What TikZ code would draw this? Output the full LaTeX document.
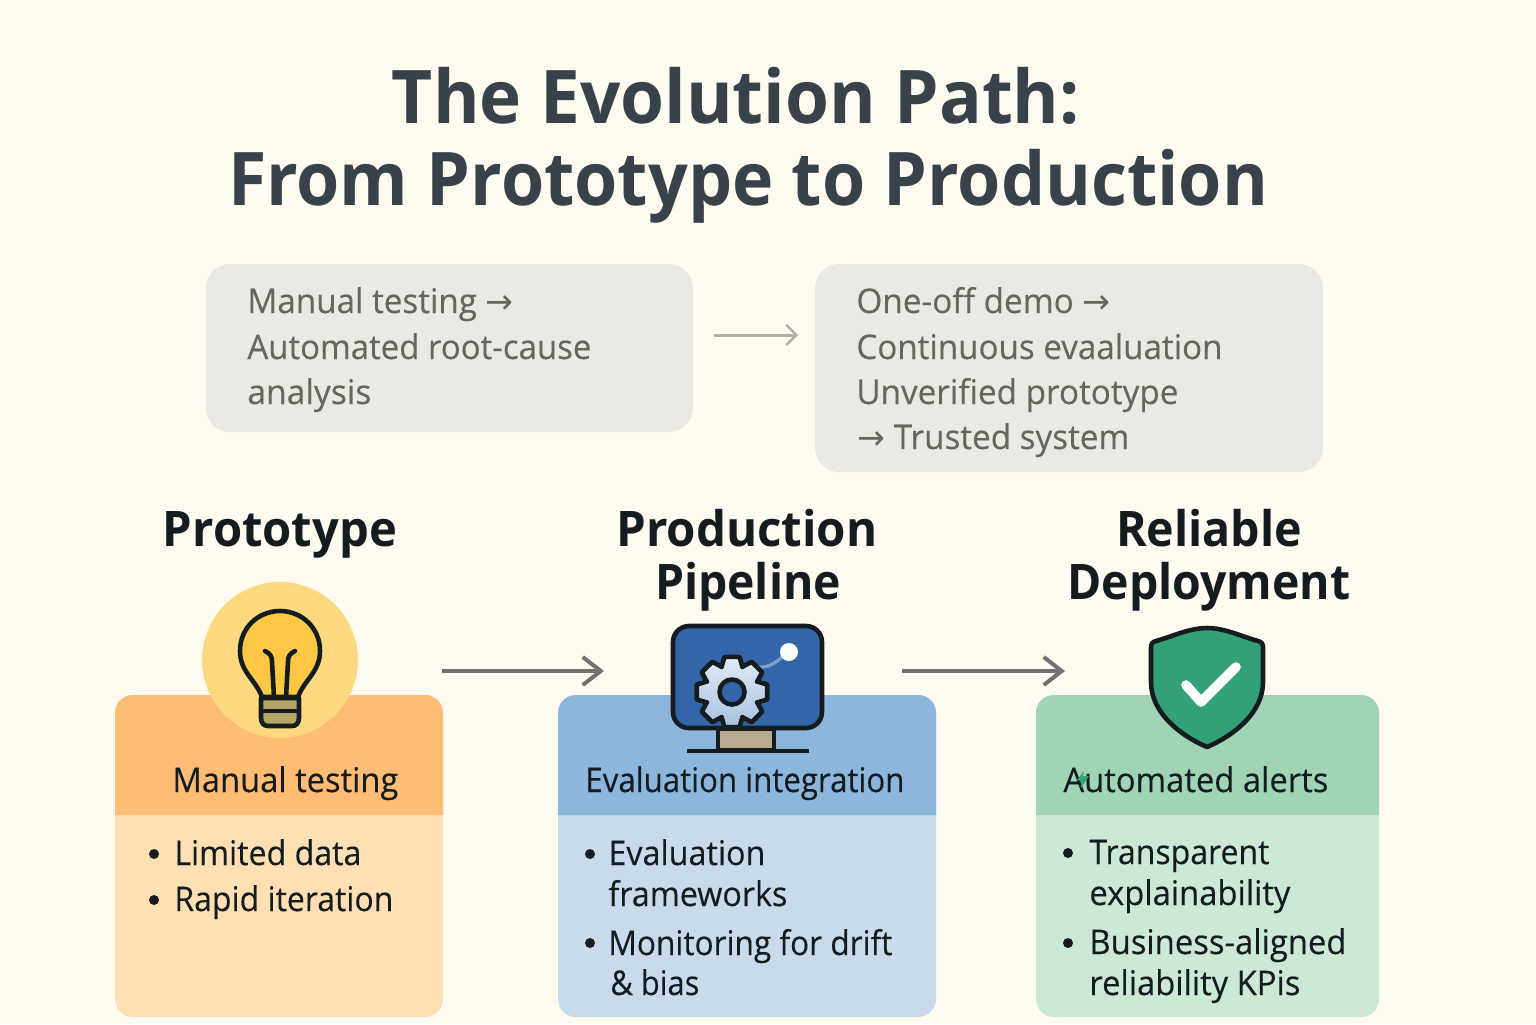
\documentclass[tikz,border=0pt]{standalone}
\usepackage{graphicx}
\usepackage{fontspec}
\setmainfont{Open Sans}
\newfontfamily\medfont[FakeBold=0.25]{Open Sans}
\newfontfamily\arrowfont{DejaVu Sans}
\usetikzlibrary{arrows.meta}
% set a text to a given width in reference pixels, keeping its height
\newcommand\fitpx[2]{\resizebox{\dimexpr #1pt/2\relax}{\height}{#2}}
\definecolor{bgc}{HTML}{FFFBF0}
\definecolor{titlec}{HTML}{37424A}
\definecolor{grayboxc}{HTML}{EAE9E4}
\definecolor{graytextc}{HTML}{66665F}
\definecolor{inkc}{HTML}{141C20}
\definecolor{orangehead}{HTML}{FFBC75}
\definecolor{orangebody}{HTML}{FFDFB4}
\definecolor{bluehead}{HTML}{8DB6DC}
\definecolor{bluebody}{HTML}{C9DBEA}
\definecolor{greenhead}{HTML}{A0D4B5}
\definecolor{greenbody}{HTML}{CBE9D4}
\definecolor{arrowc}{HTML}{6F7271}
\definecolor{softarrowc}{HTML}{B0B0A8}
\definecolor{halo}{HTML}{FFD97F}
\definecolor{glass}{HTML}{FFC844}
\definecolor{olive}{HTML}{B2A566}
\definecolor{stand}{HTML}{B8AA90}
\definecolor{screen}{HTML}{3465A8}
\definecolor{trail}{HTML}{7EA1CC}
\definecolor{gearhi}{HTML}{E0EAF6}
\definecolor{gearlo}{HTML}{A8C2E0}
\definecolor{shieldc}{HTML}{33A176}
\tikzset{
  titletext/.style={anchor=base,inner sep=0pt,text=titlec,font=\fontsize{37}{37}\selectfont\bfseries},
  headtext/.style={anchor=base,inner sep=0pt,text=inkc,font=\fontsize{24.5}{24}\selectfont\bfseries},
  subtext/.style={anchor=base west,inner sep=0pt,text=inkc,font=\fontsize{17}{17}\medfont},
  bodytext/.style={anchor=base west,inner sep=0pt,text=inkc,font=\fontsize{17}{17}\medfont},
  graytext/.style={anchor=base west,inner sep=0pt,text=graytextc,font=\fontsize{17}{17}\medfont},
  graybox/.style={fill=grayboxc,rounded corners=12pt},
  bigarrow/.style={draw=arrowc,line width=2pt,-{Straight Barb[length=9pt,width=14pt,line width=2pt]}},
  softarrow/.style={draw=softarrowc,line width=1.5pt,-{Straight Barb[length=5pt,width=10pt,line width=1.2pt]}},
  bulletdot/.style={circle,fill=inkc,inner sep=0pt,minimum size=5pt},
  iconline/.style={draw=inkc,line width=2.3pt,line join=round},
}
\begin{document}
\begin{tikzpicture}[x=0.5pt,y=-0.5pt]
\useasboundingbox (0,0) rectangle (1536,1024);
\fill[bgc] (0,0) rectangle (1536,1024);

% title
\node[titletext] (t1) at (736,123) {\fitpx{688}{The Evolution Path:}};
\node[titletext] (t2) at (748,205) {\fitpx{1040}{From Prototype to Production}};

% grey boxes
\fill[graybox] (206,264) rectangle (693,432);
\fill[graybox] (815,264) rectangle (1323,472);
\coordinate (gb1) at (693,335);
\coordinate (gb2) at (815,335);
\draw[softarrow,shorten <=10.5pt,shorten >=8.5pt] (gb1) -- (gb2);
\node[graytext] (g11) at (247,313) {\fitpx{266}{Manual testing {\arrowfont →}}};
\node[graytext] (g12) at (247,359) {\fitpx{344}{Automated root-cause}};
\node[graytext] (g13) at (247,404) {\fitpx{124}{analysis}};
\node[graytext] (g21) at (856,313) {\fitpx{254}{One-off demo {\arrowfont →}}};
\node[graytext] (g22) at (856,359) {\fitpx{366}{Continuous evaaluation}};
\node[graytext] (g23) at (856,404) {\fitpx{322}{Unverified prototype}};
\node[graytext] (g24) at (857,449) {\fitpx{272}{{\arrowfont →} Trusted system}};

% stage headings
\node[headtext] (h1) at (280,546) {\fitpx{234}{Prototype}};
\node[headtext] (h2a) at (747,546) {\fitpx{261}{Production}};
\node[headtext] (h2b) at (748,599) {\fitpx{186}{Pipeline}};
\node[headtext] (h3a) at (1209,546) {\fitpx{186}{Reliable}};
\node[headtext] (h3b) at (1209,599) {\fitpx{283}{Deployment}};

% cards
\fill[orangebody,rounded corners=9pt] (115,695) rectangle (443,1017);
\fill[orangehead] (115,815) [rounded corners=9pt] -- (115,695) -- (443,695) [sharp corners] -- (443,815) -- cycle;
\fill[bluebody,rounded corners=9pt] (558,695) rectangle (936,1017);
\fill[bluehead] (558,815) [rounded corners=9pt] -- (558,695) -- (936,695) [sharp corners] -- (936,815) -- cycle;
\fill[greenbody,rounded corners=9pt] (1036,695) rectangle (1379,1017);
\fill[greenhead] (1036,815) [rounded corners=9pt] -- (1036,695) -- (1379,695) [sharp corners] -- (1379,815) -- cycle;

% connectors
\coordinate (a1s) at (442,671);
\coordinate (a1e) at (604,671);
\coordinate (a2s) at (902,671);
\coordinate (a2e) at (1065,671);
\draw[bigarrow] (a1s) -- (a1e);
\draw[bigarrow] (a2s) -- (a2e);

% bulb icon
\fill[halo] (280,660) circle[radius=78];
\draw[iconline,fill=glass]
  (262,697) .. controls (256,680) and (240,672) .. (240,651)
  .. controls (240,628) and (258,611) .. (280,611)
  .. controls (302,611) and (320,628) .. (320,651)
  .. controls (320,672) and (304,680) .. (298,697) -- cycle;
\draw[iconline,line cap=round] (265,651) .. controls (271,654) and (272,657) .. (272,662) -- (274,697);
\draw[iconline,line cap=round] (295,651) .. controls (289,654) and (288,657) .. (288,662) -- (286,697);
\draw[iconline,fill=olive] (261,698) -- (261,718) .. controls (261,723) and (264,726) .. (268,726) -- (292,726) .. controls (296,726) and (299,723) .. (299,718) -- (299,698) -- cycle;
\draw[iconline] (261,711) -- (299,711);

% monitor icon
\draw[iconline,fill=stand] (718,729) rectangle (774,750);
\draw[draw=inkc,line width=2pt] (687,751) -- (809,751);
\draw[iconline,fill=screen,rounded corners=8pt] (673,626) rectangle (822,728);
\draw[draw=trail,line width=1.6pt,line cap=round] (758,667) .. controls (770,668) and (776,662) .. (786,654);
\fill[white] (789,652) circle[radius=9];
\draw[iconline,top color=gearhi,bottom color=gearlo]
  ({732+27*cos(-23)},{692+27*sin(-23)})
  \foreach \a in {0,45,...,315} {
    -- ({732+27*cos(\a-23)},{692+27*sin(\a-23)}) -- ({732+36*cos(\a-12)},{692+36*sin(\a-12)}) -- ({732+36*cos(\a+12)},{692+36*sin(\a+12)}) -- ({732+27*cos(\a+23)},{692+27*sin(\a+23)})
  } -- cycle;
\draw[iconline,fill=screen] (732,692) circle[radius=12.5];

% shield icon
\draw[iconline,fill=shieldc]
  (1207,628) .. controls (1225,628) and (1243,637) .. (1258,641)
  .. controls (1262,642) and (1263,644) .. (1263,648)
  -- (1263,682) .. controls (1263,712) and (1235,735) .. (1207,747)
  .. controls (1179,735) and (1151,712) .. (1151,682)
  -- (1151,648) .. controls (1151,644) and (1152,642) .. (1156,641)
  .. controls (1171,637) and (1189,628) .. (1207,628) -- cycle;
\draw[draw=white,line width=4.8pt,line cap=round,line join=round] (1186,685) -- (1201,702) -- (1236,667);

% card headers
\node[subtext] (c1) at (172,792) {\fitpx{226}{Manual testing}};
\node[subtext] (c2) at (585,792) {\fitpx{319}{Evaluation integration}};
\node[subtext] (c3) at (1063,792) {\fitpx{265}{Automated alerts}};
\fill[shieldc] (1084,771) -- (1083,776) -- (1089,776) -- (1081,788) -- (1081,781) -- (1077,780) -- cycle;

% bullets, card 1
\node[bulletdot] (b11) at (154,854) {};
\node[bodytext] (l11) at (174,865) {\fitpx{187}{Limited data}};
\node[bulletdot] (b12) at (154,900) {};
\node[bodytext] (l12) at (174,911) {\fitpx{219}{Rapid iteration}};
% bullets, card 2
\node[bulletdot] (b21) at (590,854) {};
\node[bodytext] (l21) at (608,865) {\fitpx{157}{Evaluation}};
\node[bodytext] (l22) at (608,906) {\fitpx{179}{frameworks}};
\node[bulletdot] (b22) at (590,943) {};
\node[bodytext] (l23) at (608,955) {\fitpx{284}{Monitoring for drift}};
\node[bodytext] (l24) at (610,995) {\fitpx{89}{\& bias}};
% bullets, card 3
\node[bulletdot] (b31) at (1068,853) {};
\node[bodytext] (l31) at (1089,864) {\fitpx{180}{Transparent}};
\node[bodytext] (l32) at (1089,905) {\fitpx{201}{explainability}};
\node[bulletdot] (b32) at (1068,943) {};
\node[bodytext] (l33) at (1089,954) {\fitpx{257}{Business-aligned}};
\node[bodytext] (l34) at (1089,995) {\fitpx{211}{reliability KPis}};
\end{tikzpicture}
\end{document}
